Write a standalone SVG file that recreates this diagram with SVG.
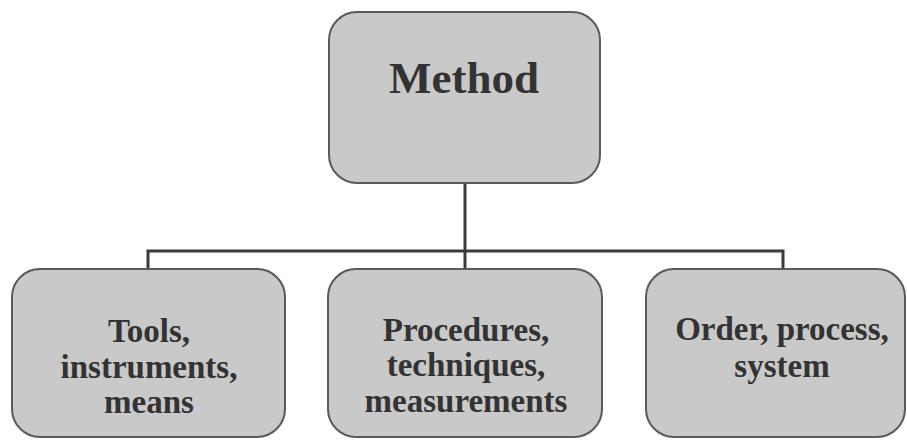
<svg xmlns="http://www.w3.org/2000/svg" width="907" height="440" viewBox="0 0 907 440">
  <style>
    .box { fill: #c9c9c9; stroke: #5a5a5a; stroke-width: 2; }
    .lbl { font-family: "Liberation Serif", "Times New Roman", serif; font-weight: bold; fill: #333333; text-anchor: middle; }
    .big { font-size: 45px; }
    .sm { font-size: 33px; }
    .wire { fill: none; stroke: #3a3a3a; stroke-width: 3; }
  </style>
  <rect width="907" height="440" fill="#ffffff"/>
  <g id="connectors">
    <path class="wire" d="M465 183 V251"/>
    <path class="wire" d="M148 269 V251 H783 V269"/>
    <path class="wire" d="M465 251 V269"/>
  </g>
  <g id="method">
    <rect class="box" x="329" y="12" width="271" height="171" rx="28"/>
    <text class="lbl big" x="464" y="93">Method</text>
  </g>
  <g id="tools">
    <rect class="box" x="12" y="269" width="273" height="168" rx="28"/>
    <text class="lbl sm" x="149" y="342">Tools,</text>
    <text class="lbl sm" x="149" y="378">instruments,</text>
    <text class="lbl sm" x="149" y="413">means</text>
  </g>
  <g id="procedures">
    <rect class="box" x="328" y="269" width="274" height="168" rx="28"/>
    <text class="lbl sm" x="466" y="341">Procedures,</text>
    <text class="lbl sm" x="466" y="376">techniques,</text>
    <text class="lbl sm" x="466" y="412">measurements</text>
  </g>
  <g id="order">
    <rect class="box" x="646" y="269" width="259" height="168" rx="28"/>
    <text class="lbl sm" x="782" y="340">Order, process,</text>
    <text class="lbl sm" x="782" y="377">system</text>
  </g>
</svg>
